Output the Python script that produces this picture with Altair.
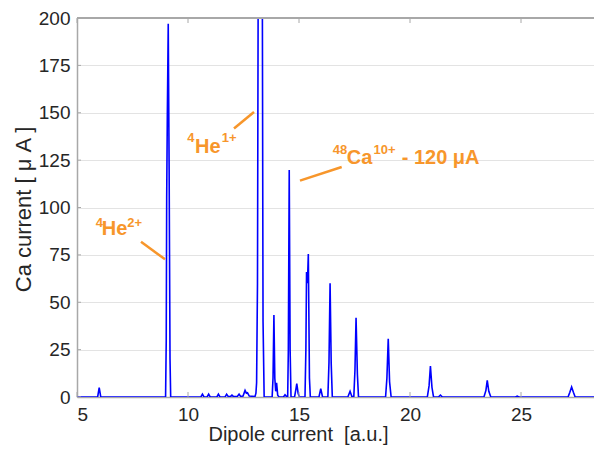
import altair as alt
import pandas as pd

# ---- trace ----
trace_x = [5.0, 5.93, 6.0, 6.07,
           8.99, 9.02, 9.04, 9.07, 9.11, 9.15, 9.19, 9.22,
           10.58, 10.65, 10.72, 10.86, 10.93, 11.0, 11.3, 11.37, 11.44, 11.67, 11.74, 11.81,
           11.92, 11.98, 12.04, 12.22, 12.3, 12.37, 12.48, 12.57, 12.63, 12.68, 12.76, 13.02,
           13.06, 13.09, 13.13, 13.17, 13.25, 13.34, 13.38, 13.43,
           13.79, 13.83, 13.87, 13.91, 13.95, 13.99, 14.04, 14.1,
           14.3, 14.37, 14.44,
           14.49, 14.52, 14.56, 14.60, 14.64,
           14.8, 14.86, 14.9, 14.96, 15.02,
           15.27, 15.31, 15.34, 15.38, 15.42, 15.47, 15.51,
           15.9, 15.98, 16.06,
           16.3, 16.35, 16.4, 16.45, 16.5,
           17.2, 17.3, 17.38,
           17.47, 17.52, 17.57, 17.63, 17.68,
           18.9, 18.96, 19.02, 19.08, 19.15,
           20.78, 20.86, 20.92, 20.99, 21.06,
           21.28, 21.37, 21.46,
           23.33, 23.42, 23.48, 23.55, 23.64,
           24.75, 24.83, 24.9,
           27.12, 27.2, 27.28, 27.36, 27.44,
           28.6]
trace_y = [0, 0, 5, 0,
           0, 30, 105, 150, 197, 120, 20, 0,
           0, 1.5, 0, 0, 1.5, 0, 0, 1.5, 0, 0, 1.5, 0.3,
           0.3, 1.0, 0.3, 0.3, 1.5, 0.3, 0.5, 3.5, 2.0, 2.2, 0.5, 0.3,
           2, 7.5, 60, 260, 420, 260, 40, 0,
           0, 10, 43.3, 10, 3, 7.5, 1, 0,
           0, 1.2, 0.2,
           0, 25, 119.8, 25, 0,
           0, 4, 7, 2, 0,
           0, 25, 66, 60, 75.4, 10, 0,
           0, 4.4, 0,
           0, 18, 60, 18, 0,
           0, 3, 0.3,
           0.3, 14, 41.8, 12, 0,
           0, 10, 30.7, 8, 0,
           0, 6, 16.3, 5, 0,
           0, 1, 0,
           0, 3.5, 8.8, 3, 0,
           0, 0.5, 0,
           0, 2.5, 5.3, 2.5, 0,
           0]

x_ticks = [5, 10, 15, 20, 25]
y_ticks = [0, 25, 50, 75, 100, 125, 150, 175, 200]

# ---- annotations ----
big_text = ["He", "He", "Ca", "- 120 μA"]
big_x = [6.113, 10.315, 17.149, 19.626]
big_y = [85.3, 128.9, 122.8, 122.8]
sup_text = ["4", "2+", "4", "1+", "48", "10+"]
sup_x = [5.842, 7.266, 9.968, 11.518, 16.518, 18.36]
sup_y = [89.6, 89.8, 134.6, 134.6, 128.0, 128.0]
lead_x = [7.883, 12.072, 15.045]
lead_y = [81.95, 141.7, 114.2]
lead_x2 = [8.964, 12.973, 16.923]
lead_y2 = [72.63, 150.4, 121.4]

W, H = 517, 379
TOP = 10
ORANGE = "#F7962B"
GREY = "#a8a8a8"
FONT = "Liberation Sans"

xs = alt.Scale(domain=[5, 5 + W / 22.2], nice=False, zero=False)
ys = alt.Scale(domain=[0, 200], nice=False)
x_axis = alt.Axis(values=x_ticks, grid=False, ticks=False, title="Dipole current\u00a0 [a.u.]",
                  labelPadding=8, titleX=221, titleY=43, titleBaseline="alphabetic",
                  titleAlign="center", titleAnchor="start")
y_axis = alt.Axis(values=y_ticks, grid=True, ticks=False, title="Ca current [ μ A ]",
                  labelPadding=7, titleX=-54, titleY=191, titleAngle=270,
                  titleAlign="center", titleBaseline="middle", titleAnchor="start")


def X(f):
    return alt.X(f, type="quantitative", scale=xs, axis=x_axis)


def Y(f):
    return alt.Y(f, type="quantitative", scale=ys, axis=y_axis)


trace = pd.DataFrame({"x": trace_x, "y": trace_y})
line = alt.Chart(trace).mark_line(color="#0000FF", strokeWidth=1.6, clip=True).encode(
    x=X("x"), y=Y("y"))

tick_df = pd.DataFrame({"x": x_ticks})
bottom_ticks = alt.Chart(tick_df).mark_rule(color=GREY, strokeWidth=1).encode(
    x=X("x"), y=alt.value(H), y2=alt.value(H - 5))
top_ticks = alt.Chart(tick_df).mark_rule(color=GREY, strokeWidth=1).encode(
    x=X("x"), y=alt.value(0), y2=alt.value(5))
ytick_df = pd.DataFrame({"y": y_ticks})
left_ticks = alt.Chart(ytick_df).mark_rule(color=GREY, strokeWidth=1).encode(
    y=Y("y"), x=alt.value(0), x2=alt.value(4))
top_frame = alt.Chart(tick_df).mark_rule(color=GREY, strokeWidth=1.5).encode(
    x=alt.value(0), x2=alt.value(W), y=alt.value(0))

leads = alt.Chart(pd.DataFrame({"x": lead_x, "y": lead_y, "x2": lead_x2, "y2": lead_y2})).mark_rule(
    color=ORANGE, strokeWidth=2.5).encode(x=X("x"), y=Y("y"), x2="x2:Q", y2="y2:Q")

big = alt.Chart(pd.DataFrame({"x": big_x, "y": big_y, "t": big_text})).mark_text(
    align="left", baseline="alphabetic", font=FONT, fontSize=20, fontWeight="bold",
    color=ORANGE).encode(x=X("x"), y=Y("y"), text="t:N")
sup = alt.Chart(pd.DataFrame({"x": sup_x, "y": sup_y, "t": sup_text})).mark_text(
    align="left", baseline="alphabetic", font=FONT, fontSize=13, fontWeight="bold",
    color=ORANGE).encode(x=X("x"), y=Y("y"), text="t:N")

chart = alt.layer(line, bottom_ticks, top_ticks, left_ticks, top_frame, leads, big, sup).properties(
    width=W, height=H,
    autosize=alt.AutoSizeParams(type="none"),
    padding={"left": 69, "top": TOP, "right": 0, "bottom": 437 - TOP - H},
).configure_view(strokeWidth=0).configure_axis(
    labelFont=FONT, titleFont=FONT, labelFontSize=19, titleFontSize=20,
    titleFontWeight="normal", labelColor="#262626", titleColor="#262626",
    domainColor=GREY, domainWidth=1.5, gridColor="#e3e3e3", gridWidth=1,
).configure_axisY(titleFontSize=22)

chart.save("out.html", embed_options={"renderer": "svg", "actions": False})
